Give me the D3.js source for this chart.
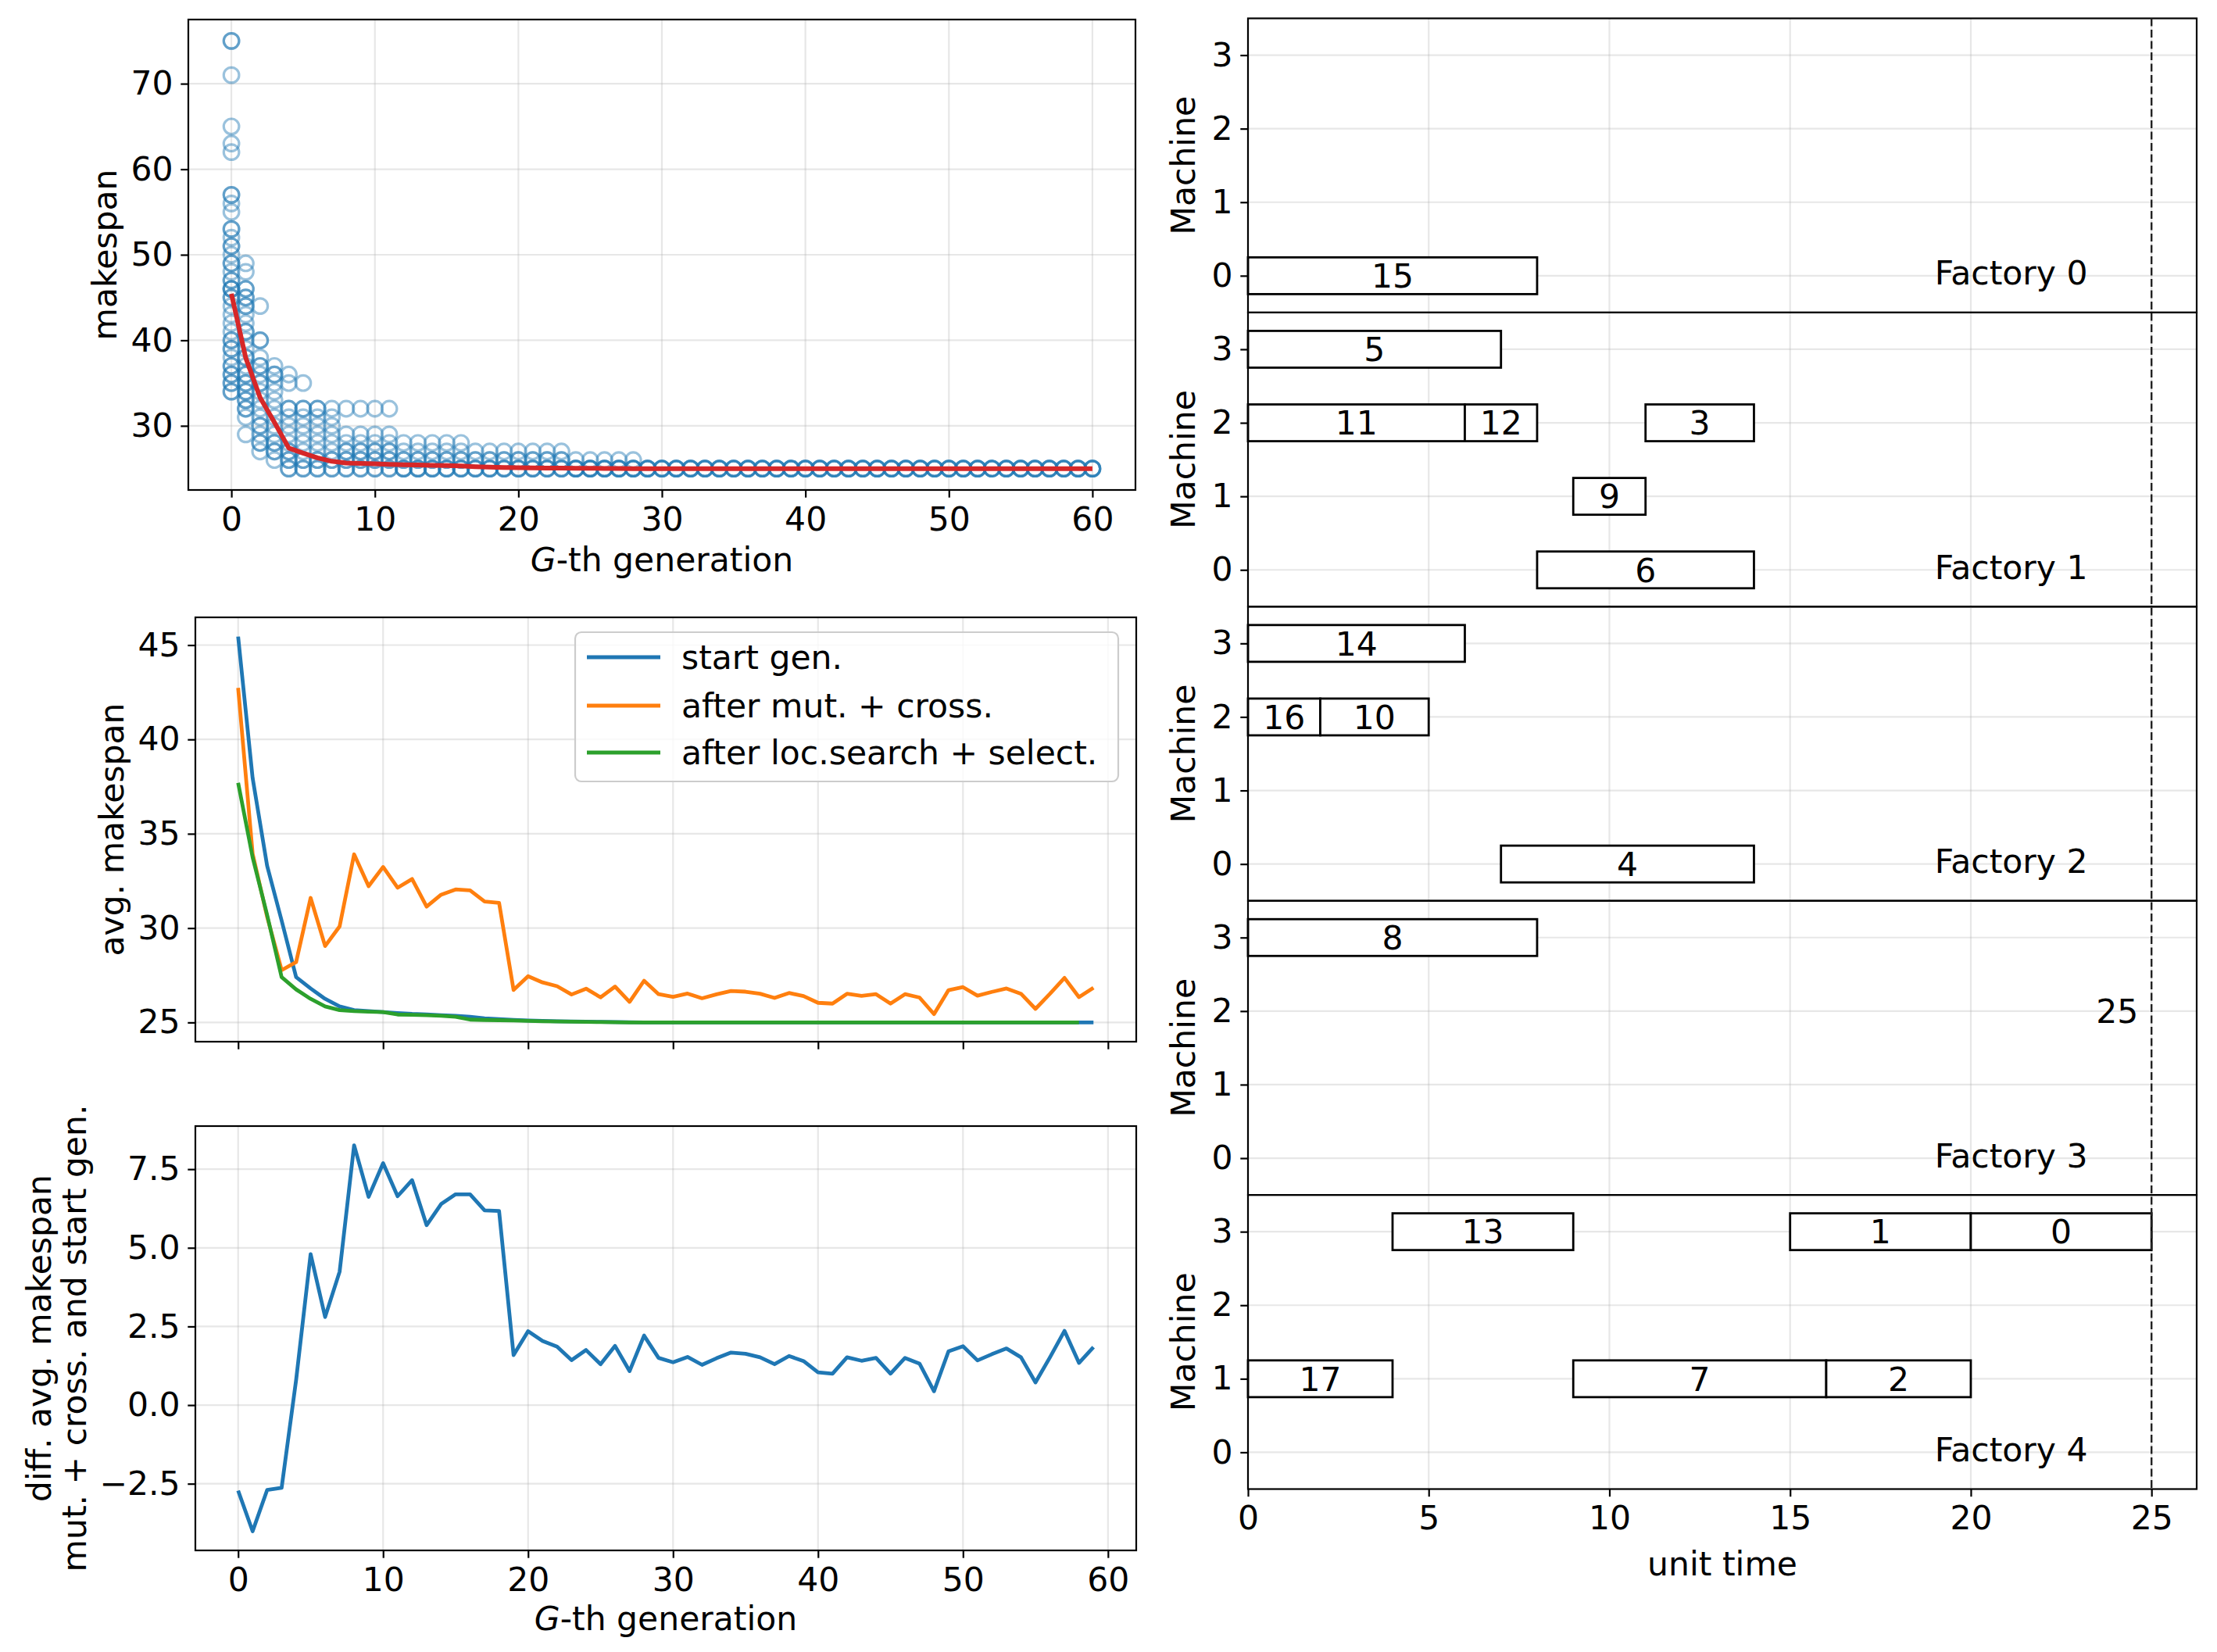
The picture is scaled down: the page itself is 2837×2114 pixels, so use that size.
<!DOCTYPE html>
<html><head><meta charset="utf-8">
<script src="https://cdn.jsdelivr.net/npm/d3@7"></script>
<style>
body{margin:0;background:#fff}
text{font-family:"DejaVu Sans",sans-serif;fill:#000}
</style>
</head><body>
<svg id="chart" width="2837" height="2114"></svg>
<script>
// ---------------- DATA ----------------
// population makespans per generation (scatter, generations 0..60)
const popMakespans = [
  [75,75,71,65,63,62,57,57,56,55,53,53,52,51,51,50,49,49,48,47,47,46,46,46,45,45,44,43,42,41,40,40,39,39,38,37,37,36,36,35,35,34,34],
  [49,48,46,46,45,45,44,44,43,42,41,41,40,39,38,38,37,36,36,35,35,34,34,33,33,32,32,31,29],
  [44,40,40,38,37,37,36,35,35,34,33,32,31,30,30,29,28,28,27],
  [37,36,36,35,34,33,32,31,30,29,28,28,27,27,26],
  [36,35,32,32,31,30,29,28,27,27,26,26,25,25],
  [35,32,32,31,30,29,28,27,26,26,25,25],
  [32,32,31,30,29,28,27,26,26,25,25],
  [32,31,30,29,28,27,26,26,25,25],
  [32,29,28,27,27,26,26,25,25],
  [32,29,28,27,27,26,26,25,25],
  [32,29,28,27,27,26,26,25,25],
  [32,29,28,27,27,26,26,25,25],
  [28,27,26,26,25,25,25],
  [28,27,26,26,25,25,25],
  [28,27,26,26,25,25,25],
  [28,27,26,26,25,25,25],
  [28,27,26,26,25,25,25],
  [27,26,26,25,25,25],
  [27,26,26,25,25,25],
  [27,26,26,25,25,25],
  [27,26,26,25,25,25],
  [27,26,26,25,25,25],
  [27,26,26,25,25,25],
  [27,26,26,25,25,25],
  [26,25,25,25,25],
  [26,25,25,25,25],
  [26,25,25,25,25],
  [26,25,25,25,25],
  [26,25,25,25,25],
  [25,25,25,25],[25,25,25,25],[25,25,25,25],[25,25,25,25],[25,25,25,25],[25,25,25,25],
  [25,25,25,25],[25,25,25,25],[25,25,25,25],[25,25,25,25],[25,25,25,25],[25,25,25,25],
  [25,25,25,25],[25,25,25,25],[25,25,25,25],[25,25,25,25],[25,25,25,25],[25,25,25,25],
  [25,25,25,25],[25,25,25,25],[25,25,25,25],[25,25,25,25],[25,25,25,25],[25,25,25,25],
  [25,25,25,25],[25,25,25,25],[25,25,25,25],[25,25,25,25],[25,25,25,25],[25,25,25,25],
  [25,25,25,25],[25,25,25,25]
];
// population mean per generation (red line, 0..60)
const popMean = [45.45,37.95,33.3,30.4,27.4,26.8,26.25,25.85,25.65,25.6,25.55,25.5,25.45,25.42,25.38,25.35,25.3,25.22,25.17,25.13,25.1,25.08,25.06,25.05,25.04,25.03,25.02,25.01,25.0,25.0,25.0,25.0,25.0,25.0,25.0,25.0,25.0,25.0,25.0,25.0,25.0,25.0,25.0,25.0,25.0,25.0,25.0,25.0,25.0,25.0,25.0,25.0,25.0,25.0,25.0,25.0,25.0,25.0,25.0,25.0,25.0];
// average makespan series (0..59 / 0..58)
const avgStart = [45.45,37.95,33.3,30.4,27.4,26.8,26.25,25.85,25.65,25.6,25.55,25.5,25.45,25.42,25.38,25.35,25.3,25.22,25.17,25.13,25.1,25.08,25.06,25.05,25.04,25.03,25.02,25.01,25.0,25.0,25.0,25.0,25.0,25.0,25.0,25.0,25.0,25.0,25.0,25.0,25.0,25.0,25.0,25.0,25.0,25.0,25.0,25.0,25.0,25.0,25.0,25.0,25.0,25.0,25.0,25.0,25.0,25.0,25.0,25.0];
const avgMutCross = [42.73,33.94,30.6,27.77,28.2,31.6,29.05,30.09,33.91,32.22,33.24,32.14,32.6,31.14,31.77,32.05,32.0,31.41,31.34,26.72,27.45,27.12,26.92,26.48,26.79,26.33,26.9,26.09,27.21,26.5,26.36,26.53,26.28,26.49,26.67,26.63,26.52,26.3,26.56,26.4,26.04,26.0,26.52,26.41,26.5,26.0,26.5,26.32,25.44,26.71,26.87,26.42,26.62,26.8,26.52,25.72,26.52,27.36,26.34,26.84];
const avgLocSel = [37.7,33.75,30.7,27.4,26.75,26.25,25.85,25.65,25.6,25.57,25.55,25.42,25.4,25.38,25.35,25.3,25.15,25.13,25.12,25.1,25.08,25.06,25.05,25.04,25.03,25.02,25.01,25.0,25.0,25.0,25.0,25.0,25.0,25.0,25.0,25.0,25.0,25.0,25.0,25.0,25.0,25.0,25.0,25.0,25.0,25.0,25.0,25.0,25.0,25.0,25.0,25.0,25.0,25.0,25.0,25.0,25.0,25.0,25.0];
// difference (after mut.+cross.) - (start gen.)
const diffMutStart = [-2.72,-4.01,-2.70,-2.63,0.8,4.80,2.80,4.24,8.26,6.62,7.69,6.64,7.15,5.72,6.39,6.70,6.70,6.19,6.17,1.59,2.35,2.04,1.86,1.43,1.75,1.30,1.88,1.08,2.21,1.50,1.36,1.53,1.28,1.49,1.67,1.63,1.52,1.30,1.56,1.40,1.04,1.00,1.52,1.41,1.50,1.00,1.50,1.32,0.44,1.71,1.87,1.42,1.62,1.80,1.52,0.72,1.52,2.36,1.34,1.84];
const seriesNames = ["start gen.","after mut. + cross.","after loc.search + select."];
// ticks
const genTicks = [0,10,20,30,40,50,60];
const scatterYTicks = [30,40,50,60,70];
const avgYTicks = [25,30,35,40,45];
const diffYTicks = [-2.5,0,2.5,5,7.5];
// Gantt: [factory, machine, job, start, end]
const ganttJobs = [
  [0,0,15,0,8],
  [1,3,5,0,7],[1,2,11,0,6],[1,2,12,6,8],[1,2,3,11,14],[1,1,9,9,11],[1,0,6,8,14],
  [2,3,14,0,6],[2,2,16,0,2],[2,2,10,2,5],[2,0,4,7,14],
  [3,3,8,0,8],
  [4,3,13,4,9],[4,3,1,15,20],[4,3,0,20,25],[4,1,17,0,4],[4,1,7,9,16],[4,1,2,16,20]
];
const factoryNames = ["Factory 0","Factory 1","Factory 2","Factory 3","Factory 4"];
const machineTicks = [0,1,2,3];
const timeTicks = [0,5,10,15,20,25];
const makespanValue = 25;
const makespanLabelFactory = 3;

// ---------------- DRAW ----------------
const svg = d3.select("#chart");
const FS = 42.5, TL = 9.7, TP = 9.7, SW = 2.2, LW = 4.8;
const C = {blue:"#1f77b4", orange:"#ff7f0e", green:"#2ca02c", red:"#d62728"};

function grid(g, xs, ys, xt, yt, box){
  g.append("g").selectAll("line").data(xt).join("line")
    .attr("x1",d=>xs(d)).attr("x2",d=>xs(d)).attr("y1",box.t).attr("y2",box.b)
    .attr("stroke","#b0b0b0").attr("stroke-opacity",0.3).attr("stroke-width",SW);
  g.append("g").selectAll("line").data(yt).join("line")
    .attr("y1",d=>ys(d)).attr("y2",d=>ys(d)).attr("x1",box.l).attr("x2",box.r)
    .attr("stroke","#b0b0b0").attr("stroke-opacity",0.3).attr("stroke-width",SW);
}
function styleAxis(a){
  a.select(".domain").remove();
  a.selectAll(".tick line").attr("stroke","#000").attr("stroke-width",SW);
  a.selectAll(".tick text").attr("font-size",FS).attr("font-family","DejaVu Sans").attr("fill","#000");
}
function axes(g, xs, ys, xt, yt, box, fmtY, showXLabels){
  const ax = g.append("g").attr("transform",`translate(0,${box.b})`)
    .call(d3.axisBottom(xs).tickValues(xt).tickSize(TL).tickSizeOuter(0).tickPadding(TP).tickFormat(showXLabels?d3.format("d"):()=>""));
  styleAxis(ax);
  ax.selectAll(".tick text").attr("dy","0.76em");
  const ay = g.append("g").attr("transform",`translate(${box.l},0)`)
    .call(d3.axisLeft(ys).tickValues(yt).tickSize(TL).tickSizeOuter(0).tickPadding(TP).tickFormat(fmtY));
  styleAxis(ay);
}
function frame(g, box){
  g.append("rect").attr("x",box.l).attr("y",box.t).attr("width",box.r-box.l).attr("height",box.b-box.t)
    .attr("fill","none").attr("stroke","#000").attr("stroke-width",SW);
}
function xlabel(x,y){
  const t = svg.append("text").attr("x",x).attr("y",y).attr("text-anchor","middle").attr("font-size",FS);
  t.append("tspan").attr("font-style","italic").text("G");
  t.append("tspan").text("-th generation");
}
function ylabel(x,y,txt){
  svg.append("text").attr("transform",`translate(${x},${y}) rotate(-90)`).attr("text-anchor","middle")
    .attr("dy","0.35em").attr("font-size",FS).text(txt);
}

// ---- Panel 1: scatter ----
{
  const box = {l:241, r:1453, t:25, b:627};
  const xs = d3.scaleLinear().domain([-3,63]).range([box.l,box.r]);
  const ys = d3.scaleLinear().domain([22.5,77.5]).range([box.b,box.t]);
  const g = svg.append("g");
  grid(g, xs, ys, genTicks, scatterYTicks, box);
  const pts = popMakespans.flatMap((arr,gi)=>arr.map(v=>({g:gi,v})));
  g.append("g").selectAll("circle").data(pts).join("circle")
    .attr("cx",d=>xs(d.g)).attr("cy",d=>ys(d.v)).attr("r",9.8)
    .attr("fill","none").attr("stroke",C.blue).attr("stroke-opacity",0.45).attr("stroke-width",3.2);
  g.append("path").datum(popMean)
    .attr("d",d3.line().x((d,i)=>xs(i)).y(d=>ys(d)))
    .attr("fill","none").attr("stroke",C.red).attr("stroke-width",6).attr("stroke-linejoin","round");
  axes(g, xs, ys, genTicks, scatterYTicks, box, d3.format("d"), true);
  frame(g, box);
  xlabel((box.l+box.r)/2, 731);
  ylabel(134, (box.t+box.b)/2, "makespan");
}

// ---- Panel 2: averages ----
const xGen = d3.scaleLinear().domain([-2.95,61.95]).range([250,1454]);
{
  const box = {l:250, r:1454, t:790, b:1333};
  const ys = d3.scaleLinear().domain([23.98,46.47]).range([box.b,box.t]);
  const g = svg.append("g");
  grid(g, xGen, ys, genTicks, avgYTicks, box);
  const line = d3.line().x((d,i)=>xGen(i)).y(d=>ys(d));
  [[avgStart,C.blue],[avgMutCross,C.orange],[avgLocSel,C.green]].forEach(([s,c])=>{
    g.append("path").datum(s).attr("d",line).attr("fill","none").attr("stroke",c)
      .attr("stroke-width",LW).attr("stroke-linejoin","round");
  });
  axes(g, xGen, ys, genTicks, avgYTicks, box, d3.format("d"), false);
  frame(g, box);
  // legend
  const lg = g.append("g");
  lg.append("rect").attr("x",736).attr("y",809).attr("width",695).attr("height",191).attr("rx",8)
    .attr("fill","#fff").attr("fill-opacity",0.8).attr("stroke","#cccccc").attr("stroke-width",2.2);
  const ly = [841,903,963];
  [C.blue,C.orange,C.green].forEach((c,i)=>{
    lg.append("line").attr("x1",751).attr("x2",845).attr("y1",ly[i]).attr("y2",ly[i])
      .attr("stroke",c).attr("stroke-width",LW);
    lg.append("text").attr("x",872).attr("y",ly[i]).attr("dy","0.35em").attr("font-size",FS).text(seriesNames[i]);
  });
  ylabel(143, (box.t+box.b)/2, "avg. makespan");
}

// ---- Panel 3: difference ----
{
  const box = {l:250, r:1454, t:1441, b:1984};
  const ys = d3.scaleLinear().domain([-4.62,8.87]).range([box.b,box.t]);
  const g = svg.append("g");
  grid(g, xGen, ys, genTicks, diffYTicks, box);
  g.append("path").datum(diffMutStart)
    .attr("d",d3.line().x((d,i)=>xGen(i)).y(d=>ys(d)))
    .attr("fill","none").attr("stroke",C.blue).attr("stroke-width",LW).attr("stroke-linejoin","round");
  axes(g, xGen, ys, genTicks, diffYTicks, box, d3.format(".1f"), true);
  frame(g, box);
  xlabel((box.l+box.r)/2, 2086);
  ylabel(50, (box.t+box.b)/2, "diff. avg. makespan");
  ylabel(95, (box.t+box.b)/2, "mut. + cross. and start gen.");
}

// ---- Gantt panels ----
{
  const L = 1597, R = 2811, T0 = 23.5, H = 376.4;
  const xs = d3.scaleLinear().domain([0,26.25]).range([L,R]);
  factoryNames.forEach((name,f)=>{
    const box = {l:L, r:R, t:T0+f*H, b:T0+(f+1)*H};
    const ys = d3.scaleLinear().domain([-0.5,3.5]).range([box.b,box.t]);
    const g = svg.append("g");
    grid(g, xs, ys, timeTicks, machineTicks, box);
    const jobs = ganttJobs.filter(j=>j[0]===f);
    g.append("g").selectAll("rect").data(jobs).join("rect")
      .attr("x",d=>xs(d[3])).attr("width",d=>xs(d[4])-xs(d[3]))
      .attr("y",d=>ys(d[1]+0.25)).attr("height",d=>ys(d[1]-0.25)-ys(d[1]+0.25))
      .attr("fill","#fff").attr("stroke","#000").attr("stroke-width",2.8);
    g.append("g").selectAll("text").data(jobs).join("text")
      .attr("x",d=>xs((d[3]+d[4])/2)).attr("y",d=>ys(d[1])).attr("dy","0.36em")
      .attr("text-anchor","middle").attr("font-size",FS).text(d=>d[2]);
    g.append("text").attr("x",xs(19.0)).attr("y",ys(0)).attr("dy","0.27em")
      .attr("font-size",FS).text(name);
    if (f===makespanLabelFactory){
      g.append("text").attr("x",xs(24.05)).attr("y",ys(2)).attr("dy","0.36em")
        .attr("text-anchor","middle").attr("font-size",FS).text(makespanValue);
    }
    const isLast = f===factoryNames.length-1;
    const ax = g.append("g").attr("transform",`translate(0,${box.b})`)
      .call(d3.axisBottom(xs).tickValues(timeTicks).tickSize(isLast?TL:0).tickSizeOuter(0).tickPadding(TP)
        .tickFormat(isLast?d3.format("d"):()=>""));
    styleAxis(ax);
    ax.selectAll(".tick text").attr("dy","0.76em");
    const ay = g.append("g").attr("transform",`translate(${box.l},0)`)
      .call(d3.axisLeft(ys).tickValues(machineTicks).tickSize(TL).tickSizeOuter(0).tickPadding(TP).tickFormat(d3.format("d")));
    styleAxis(ay);
    frame(g, box);
    ylabel(1514, (box.t+box.b)/2, "Machine");
  });
  // makespan dashed line
  svg.append("line").attr("x1",xs(makespanValue)).attr("x2",xs(makespanValue))
    .attr("y1",T0).attr("y2",T0+5*H)
    .attr("stroke","#222").attr("stroke-width",2.4).attr("stroke-dasharray","10,4.5");
  svg.append("text").attr("x",(L+R)/2).attr("y",2001).attr("dy","0.36em")
    .attr("text-anchor","middle").attr("font-size",FS).text("unit time");
}
</script>
</body></html>
